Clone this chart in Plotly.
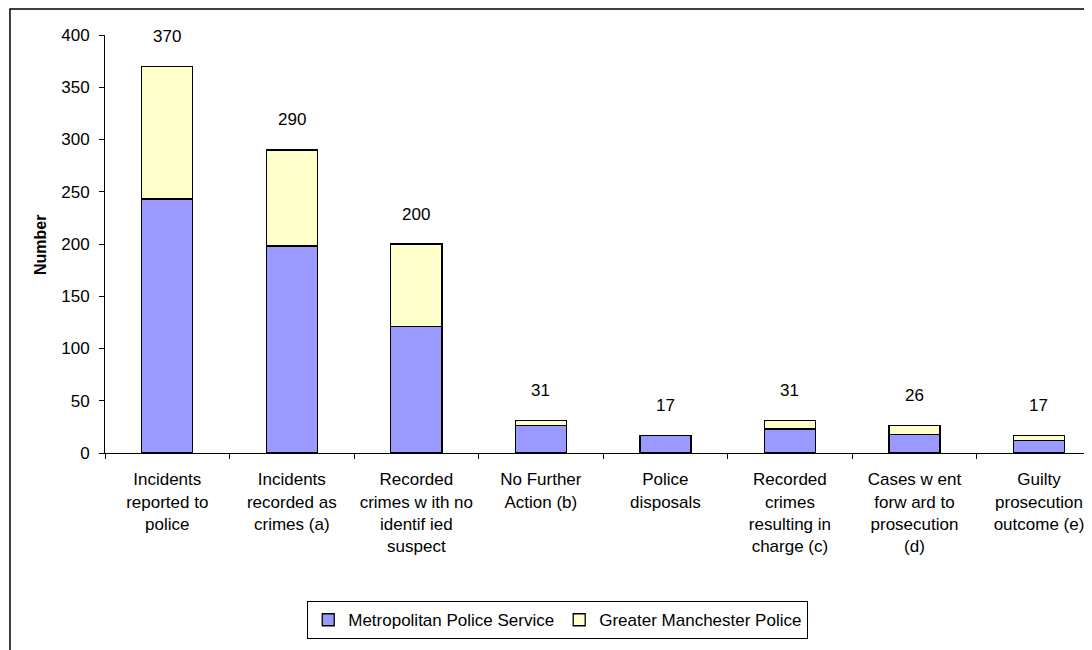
import plotly.graph_objects as go

categories = [
    "Incidents<br>reported to<br>police",
    "Incidents<br>recorded as<br>crimes (a)",
    "Recorded<br>crimes w ith no<br>identif ied<br>suspect",
    "No Further<br>Action (b)",
    "Police<br>disposals",
    "Recorded<br>crimes<br>resulting in<br>charge (c)",
    "Cases w ent<br>forw ard to<br>prosecution<br>(d)",
    "Guilty<br>prosecution<br>outcome (e)",
]
mps_values = [243, 198, 121, 26, 17, 23, 18, 12]
gmp_values = [127, 92, 79, 5, 0, 8, 8, 5]
total_labels = [370, 290, 200, 31, 17, 31, 26, 17]
y_ticks = [0, 50, 100, 150, 200, 250, 300, 350, 400]

FONT = "Liberation Sans, Arial, sans-serif"
FS = 17

fig = go.Figure()
fig.add_trace(go.Bar(
    x=categories, y=mps_values, name="Metropolitan Police Service",
    marker=dict(color="#9999FF", line=dict(color="black", width=1.3)),
    width=0.41,
))
fig.add_trace(go.Bar(
    x=categories, y=gmp_values, name="Greater Manchester Police",
    marker=dict(color="#FFFFCC", line=dict(color="black", width=1.3)),
    width=0.41,
))

for c, m, g, lab in zip(categories, mps_values, gmp_values, total_labels):
    fig.add_annotation(x=c, y=m + g, text=str(lab), showarrow=False,
                       yanchor="middle", yshift=30,
                       font=dict(family=FONT, size=FS, color="black"))

fig.add_annotation(xref="paper", yref="paper", x=-0.0653, y=0.4976,
                   xanchor="center", yanchor="middle",
                   text="<b>Number</b>", textangle=-90, showarrow=False,
                   font=dict(family=FONT, size=16, color="black"))

fig.add_shape(type="rect", xref="paper", yref="paper",
              x0=-0.0955, x1=1.05, y0=-0.6, y1=1.0622,
              line=dict(color="black", width=1.5), fillcolor="rgba(0,0,0,0)")

fig.update_layout(
    barmode="stack",
    width=1092, height=650,
    margin=dict(l=97, r=0, t=27, b=205),
    paper_bgcolor="white", plot_bgcolor="white",
    font=dict(family=FONT, size=FS, color="black"),
    showlegend=True,
    legend=dict(orientation="h", x=0.455, y=-0.4, xanchor="center", yanchor="middle",
                bordercolor="black", borderwidth=1, bgcolor="white",
                font=dict(family=FONT, size=FS, color="black"),
                itemwidth=30, traceorder="normal"),
    bargap=0.59,
)
fig.update_xaxes(
    range=[-0.5, 7.49], showline=True, linecolor="black", linewidth=1,
    ticks="outside", tickson="boundaries", ticklen=5, tickcolor="black",
    showgrid=False, tickangle=0, ticklabelstandoff=11,
    tickfont=dict(family=FONT, size=FS, color="black"),
)
fig.update_yaxes(
    range=[0, 400], tickvals=y_ticks, showline=True, linecolor="black", linewidth=1,
    ticks="outside", ticklen=5, tickcolor="black", showgrid=False, zeroline=False,
    ticklabelstandoff=6,
    tickfont=dict(family=FONT, size=FS, color="black"),
)

fig.write_html("out.html")
